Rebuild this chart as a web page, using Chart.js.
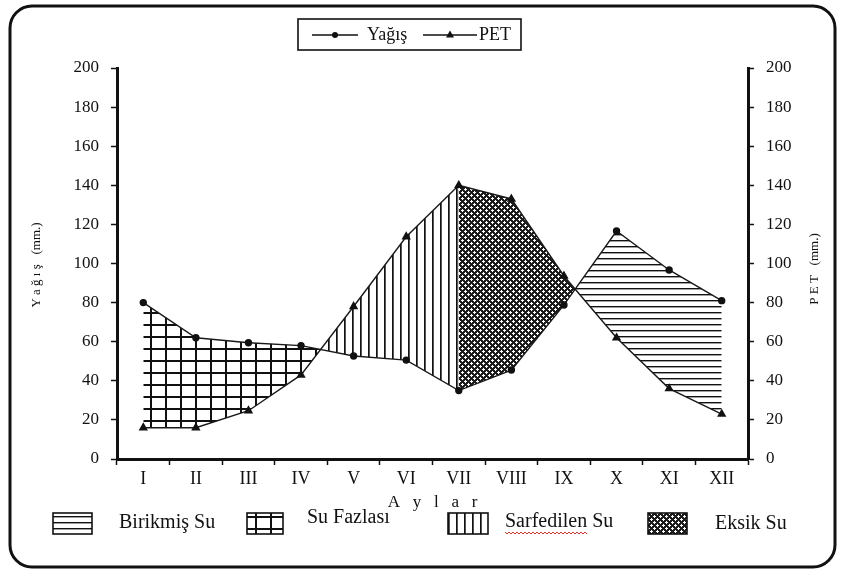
<!DOCTYPE html>
<html lang="tr">
<head>
<meta charset="UTF-8">
<title>Su Bilançosu</title>
<script src="https://cdn.jsdelivr.net/npm/chart.js"></script>
<style>
  html, body { margin: 0; padding: 0; background: #fff; }
  canvas { display: block; }
</style>
</head>
<body>
<canvas id="balanceChart" width="842" height="577"></canvas>
<script>
// months and monthly values (mm)
const months = ['I', 'II', 'III', 'IV', 'V', 'VI', 'VII', 'VIII', 'IX', 'X', 'XI', 'XII'];
const yagis = [80, 62, 59.5, 58, 52.7, 50.6, 35, 45.5, 78.8, 116.6, 96.7, 81];
const pet = [16, 16, 24.7, 43, 78, 113.7, 140, 133, 93.6, 62, 36, 23];
const seriesNames = ['Yağış', 'PET'];

// axis range and titles
const axisMin = 0, axisMax = 200, axisStep = 20;
const xTitle = 'A   y   l   a   r';
const yTitle = 'Y a ğ ı ş   (mm.)';
const y1Title = 'P E T   (mm.)';

// zones between the two curves; '×' means "where the curves cross"
const zoneNames = ['Su Fazlası', 'Sarfedilen Su', 'Eksik Su', 'Birikmiş Su'];
const zoneBounds = ['I', '×', 'VII', '×', 'XII'];
const legendOrder = ['Birikmiş Su', 'Su Fazlası', 'Sarfedilen Su', 'Eksik Su'];

const INK = '#111';
const FONT = "'Liberation Serif', 'Times New Roman', serif";

function makePattern(w, h, draw) {
    const c = document.createElement('canvas');
    c.width = w; c.height = h;
    const g = c.getContext('2d');
    g.fillStyle = '#fff';
    g.fillRect(0, 0, w, h);
    draw(g);
    return document.createElement('canvas').getContext('2d').createPattern(c, 'repeat');
}

const patterns = {
    'Su Fazlası': makePattern(15, 12, g => {
        g.fillStyle = INK;
        g.fillRect(0, 0, 2, 12);
        g.fillRect(0, 0, 15, 2);
    }),
    'Sarfedilen Su': makePattern(8, 8, g => {
        g.fillStyle = INK;
        g.fillRect(0, 0, 1.7, 8);
    }),
    'Birikmiş Su': makePattern(6, 6, g => {
        g.fillStyle = INK;
        g.fillRect(0, 0, 6, 1.4);
    }),
    'Eksik Su': makePattern(6, 6, g => {
        g.fillStyle = '#1c1c1c';
        g.fillRect(0, 0, 6, 6);
        g.fillStyle = '#fff';
        [[3, 3], [2, 3], [4, 3], [3, 2], [3, 4], [0, 0], [5, 0], [1, 0], [0, 5], [0, 1]]
            .forEach(p => g.fillRect(p[0], p[1], 1, 1));
    })
};

// fills the areas between the two lines, zone by zone
const fillZones = {
    id: 'fillZones',
    beforeDatasetsDraw(chart) {
        const {ctx, chartArea} = chart;
        const a = chart.getDatasetMeta(0).data;
        const b = chart.getDatasetMeta(1).data;
        const xs = chart.scales.x;

        const crossings = [];
        for (let i = 0; i < months.length - 1; i++) {
            const d0 = yagis[i] - pet[i], d1 = yagis[i + 1] - pet[i + 1];
            if (d0 * d1 < 0) {
                const t = d0 / (d0 - d1);
                crossings.push(a[i].x + t * (a[i + 1].x - a[i].x));
            }
        }
        let ci = 0;
        const bx = zoneBounds.map(m => m === '×' ? crossings[ci++] : xs.getPixelForValue(months.indexOf(m)));

        zoneNames.forEach((name, k) => {
            ctx.save();
            ctx.beginPath();
            ctx.rect(bx[k], chartArea.top, bx[k + 1] - bx[k], chartArea.bottom - chartArea.top);
            ctx.clip();
            ctx.beginPath();
            a.forEach((p, i) => i ? ctx.lineTo(p.x, p.y) : ctx.moveTo(p.x, p.y));
            for (let i = b.length - 1; i >= 0; i--) ctx.lineTo(b[i].x, b[i].y);
            ctx.closePath();
            ctx.fillStyle = patterns[name];
            ctx.fill();
            ctx.restore();
        });
    }
};

function marker(ctx, style, x, y) {
    ctx.beginPath();
    if (style === 'circle') {
        ctx.arc(x, y, 3, 0, Math.PI * 2);
    } else {
        ctx.moveTo(x, y - 4.5);
        ctx.lineTo(x + 4, y + 2.5);
        ctx.lineTo(x - 4, y + 2.5);
        ctx.closePath();
    }
    ctx.fill();
}

// frame, legends and side titles
const decorations = {
    id: 'decorations',
    afterDraw(chart) {
        const ctx = chart.ctx;
        ctx.save();

        // rounded outer frame
        ctx.strokeStyle = INK;
        ctx.lineWidth = 3;
        const fx = 10, fy = 6, fw = 825, fh = 561, r = 22;
        ctx.beginPath();
        ctx.moveTo(fx + r, fy);
        ctx.arcTo(fx + fw, fy, fx + fw, fy + fh, r);
        ctx.arcTo(fx + fw, fy + fh, fx, fy + fh, r);
        ctx.arcTo(fx, fy + fh, fx, fy, r);
        ctx.arcTo(fx, fy, fx + fw, fy, r);
        ctx.closePath();
        ctx.stroke();

        // top legend
        ctx.lineWidth = 1.6;
        ctx.strokeRect(298, 19, 223, 31);
        ctx.fillStyle = INK;
        ctx.font = '18px ' + FONT;
        ctx.textBaseline = 'middle';
        ctx.textAlign = 'left';
        const items = [
            {x0: 312, x1: 358, tx: 367, style: 'circle'},
            {x0: 423, x1: 477, tx: 479, style: 'triangle'}
        ];
        items.forEach((it, i) => {
            ctx.lineWidth = 1.3;
            ctx.beginPath();
            ctx.moveTo(it.x0, 35);
            ctx.lineTo(it.x1, 35);
            ctx.stroke();
            marker(ctx, it.style, (it.x0 + it.x1) / 2, 35);
            ctx.fillText(seriesNames[i], it.tx, 35);
        });

        // y axis titles (both read bottom to top)
        ctx.font = '13px ' + FONT;
        ctx.textAlign = 'center';
        [[37, 265, yTitle], [815, 269, y1Title]].forEach(t => {
            ctx.save();
            ctx.translate(t[0], t[1]);
            ctx.rotate(-Math.PI / 2);
            ctx.fillText(t[2], 0, 0);
            ctx.restore();
        });

        // bottom legend with pattern swatches
        const slots = [
            {sx: 53, sw: 39, tx: 119, ty: 523},
            {sx: 247, sw: 36, tx: 307, ty: 518},
            {sx: 448, sw: 40, tx: 505, ty: 522},
            {sx: 648, sw: 39, tx: 715, ty: 524}
        ];
        ctx.font = '20px ' + FONT;
        ctx.textAlign = 'left';
        legendOrder.forEach((name, i) => {
            const s = slots[i];
            ctx.fillStyle = patterns[name];
            ctx.fillRect(s.sx, 513, s.sw, 21);
            ctx.lineWidth = 1.6;
            ctx.strokeStyle = INK;
            ctx.strokeRect(s.sx, 513, s.sw, 21);
            ctx.fillStyle = INK;
            ctx.fillText(name, s.tx, s.ty);
            if (name === 'Sarfedilen Su') {
                // spell-check squiggle under the first word
                const w = ctx.measureText(name.split(' ')[0]).width;
                ctx.strokeStyle = '#e0302a';
                ctx.lineWidth = 1;
                ctx.beginPath();
                for (let x = 0; x <= w; x += 2) {
                    const yy = s.ty + 11 + ((x / 2) % 2 ? 1 : -1);
                    x ? ctx.lineTo(s.tx + x, yy) : ctx.moveTo(s.tx + x, yy);
                }
                ctx.stroke();
            }
        });
        ctx.restore();
    }
};

const axisCommon = {
    min: axisMin,
    max: axisMax,
    ticks: {stepSize: axisStep, padding: 12, color: INK, font: {size: 17}},
    grid: {display: true, drawOnChartArea: false, tickLength: 6, tickColor: INK, tickWidth: 1.5},
    border: {display: true, color: INK, width: 3}
};

Chart.defaults.font.family = FONT;
Chart.defaults.color = INK;

new Chart(document.getElementById('balanceChart'), {
    type: 'line',
    data: {
        labels: months,
        datasets: [{
            label: seriesNames[0],
            data: yagis,
            yAxisID: 'y',
            borderColor: '#1a1a1a',
            borderWidth: 1.4,
            pointStyle: 'circle',
            pointRadius: 3,
            pointBackgroundColor: INK,
            pointBorderColor: INK,
            fill: false,
            tension: 0
        }, {
            label: seriesNames[1],
            data: pet,
            yAxisID: 'y1',
            borderColor: '#1a1a1a',
            borderWidth: 1.4,
            pointStyle: 'triangle',
            pointRadius: 4,
            pointBackgroundColor: INK,
            pointBorderColor: INK,
            fill: false,
            tension: 0
        }]
    },
    options: {
        responsive: false,
        animation: false,
        devicePixelRatio: 1,
        layout: {padding: {left: 55, right: 32, top: 68, bottom: 64}},
        plugins: {
            legend: {display: false},
            tooltip: {enabled: false}
        },
        scales: {
            x: {
                offset: true,
                grid: {display: true, offset: true, drawOnChartArea: false, tickLength: 6, tickColor: INK, tickWidth: 1.5},
                border: {display: true, color: INK, width: 3},
                ticks: {color: INK, font: {size: 18}, padding: 3, maxRotation: 0, autoSkip: false},
                title: {display: true, text: xTitle, color: INK, font: {size: 17}, padding: 0},
                afterFit(scale) { scale.height = 54; }
            },
            y: Object.assign({position: 'left', afterFit(scale) { scale.width = 62; }}, axisCommon),
            y1: Object.assign({position: 'right', afterFit(scale) { scale.width = 62; }}, axisCommon)
        }
    },
    plugins: [fillZones, decorations]
});
</script>
</body>
</html>
